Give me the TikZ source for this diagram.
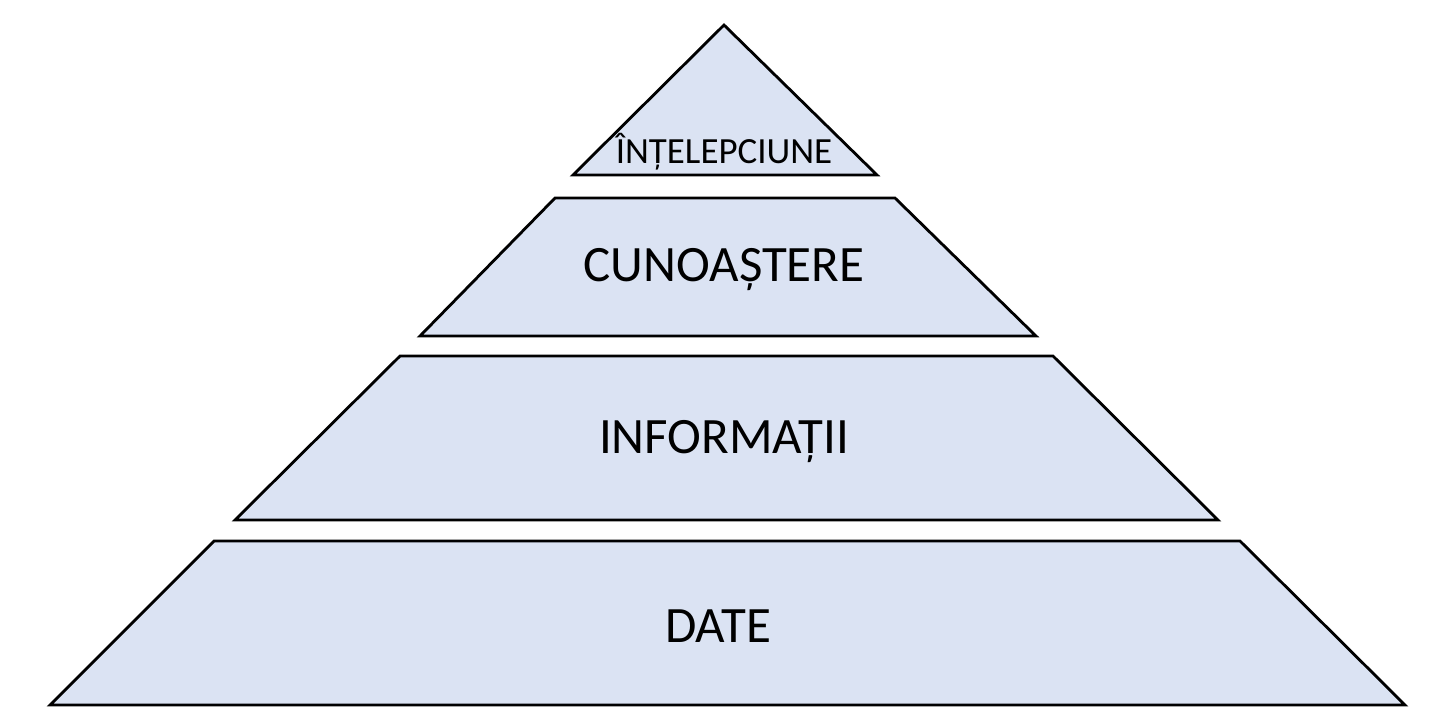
\documentclass[tikz,border=0pt]{standalone}
\usepackage{fontspec}
\setmainfont{Carlito}
\definecolor{layerfill}{RGB}{219,227,243}
\tikzset{layer/.style={draw, thick, fill=layerfill, line join=miter}}
\begin{document}
\begin{tikzpicture}[x=0.01cm, y=-0.01cm]
      \useasboundingbox (0,0) rectangle (1442,720);

      % apex
      \draw [layer] (724,25) -- (877,175) -- (573,175) -- cycle;
      \node (wisdom) at (724,152) {\fontsize{10.5}{12}\selectfont ÎNȚELEPCIUNE};

      % second layer
      \draw [layer] (555,198) -- (895,198) -- (1036,336) -- (420,336) -- cycle;
      \node (knowledge) at (724,270) {\fontsize{14.5}{16}\selectfont CUNOAȘTERE};

      % third layer
      \draw [layer] (400,356) -- (1053,356) -- (1218,520) -- (235,520) -- cycle;
      \node (information) at (724,442) {\fontsize{14.5}{16}\selectfont INFORMAȚII};

      % base
      \draw [layer] (214,541) -- (1240,541) -- (1405,705) -- (50,705) -- cycle;
      \node (data) at (718,626) {\fontsize{14.5}{16}\selectfont DATE};
\end{tikzpicture}
\end{document}
